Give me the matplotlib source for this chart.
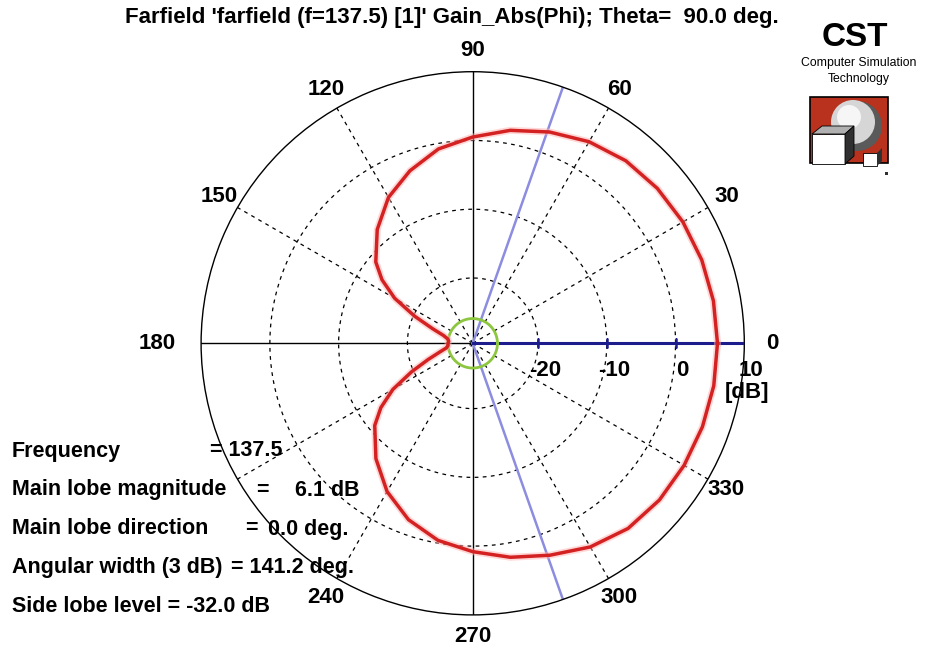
import numpy as np
import matplotlib.pyplot as plt
from matplotlib.patches import Rectangle, Circle, Polygon

# farfield cut, phi in degrees -> gain in dB
phi_deg = [0, 10, 20, 30, 40, 50, 60, 70, 80, 90, 100, 110, 120, 130, 140, 145,
           150, 155, 160, 165, 170, 175, 180, 185, 190, 195, 200, 205, 210, 215,
           220, 230, 240, 250, 260, 270, 280, 290, 300, 310, 320, 330, 340, 350, 360]
gain_db = [6.1, 6.05, 5.95, 5.8, 5.55, 5.15, 4.35, 3.2, 1.95, 0.5, -0.8, -2.8, -5.0, -7.9, -11.1, -13.4,
           -16.4, -20.2, -23.3, -25.1, -25.8, -26.0, -25.9, -25.9, -25.6, -24.5, -22.6, -19.7, -16.1, -13.2,
           -10.9, -7.6, -4.6, -2.2, -0.4, 0.8, 2.1, 3.3, 4.7, 5.65, 5.95, 6.0, 6.05, 6.1, 6.1]

freq = 137.5
main_lobe_mag = 6.1
main_lobe_dir = 0.0
angular_width = 141.2
side_lobe_level = -32.0

ring_levels = [-20, -10, 0, 10]
angle_labels = [0, 30, 60, 90, 120, 150, 180, 240, 270, 300, 330]

R0, RMAX = -29.5, 10
W, H = 929, 649
FONT = ['Liberation Sans', 'DejaVu Sans']

fig = plt.figure(figsize=(W / 100, H / 100), dpi=100)
fig.patch.set_facecolor('white')

def px(x, y):
    return x / W, 1 - y / H

cx, cy, rad_px = 472.7, 343.3, 271.6
ax = fig.add_axes([(cx - rad_px) / W, (H - cy - rad_px) / H, 2 * rad_px / W, 2 * rad_px / H],
                  projection='polar')
ax.set_ylim(R0, RMAX)
ax.grid(False)
ax.set_xticks([])
ax.set_yticks([])
ax.spines['polar'].set_linewidth(1.0)
ax.spines['polar'].set_color('black')
ax.set_facecolor('white')

dash = (0, (3, 3.5))
tc = np.linspace(0, 2 * np.pi, 361)
for lvl in ring_levels[:-1]:
    ax.plot(tc, np.full_like(tc, lvl), color='black', ls=dash, lw=0.9, zorder=1)
for a in range(30, 360, 30):
    if a % 90 == 0:
        continue
    ax.plot([np.radians(a)] * 2, [R0, RMAX], color='black', ls=dash, lw=0.9, zorder=1)
for a in [0, 90, 180, 270]:
    ax.plot([np.radians(a)] * 2, [R0, RMAX], color='black', lw=1.0, zorder=1)

# 3 dB beamwidth markers
half = np.radians(angular_width / 2)
for t in (half, -half):
    ax.plot([t, t], [R0, RMAX], color='#8c8ce0', lw=1.8, zorder=2)

# main lobe direction
md = np.radians(main_lobe_dir)
ax.plot([md, md], [R0, RMAX], color='#1c1c8c', lw=2.2, zorder=3)
ax.plot([md] * 3, ring_levels[:-1], ls='none', marker='|', ms=7, mew=1.8, color='#1c1c8c', zorder=3)

# side lobe level circle
sll = main_lobe_mag + side_lobe_level
ax.plot(tc, np.full_like(tc, sll), color='#8dc63f', lw=2.0, zorder=3)

# pattern
ax.plot(np.radians(phi_deg), gain_db, color='#ffb0b0', lw=5, alpha=0.5, zorder=4,
        solid_joinstyle='round')
ax.plot(np.radians(phi_deg), gain_db, color='#d42222', lw=2.5, zorder=4, solid_joinstyle='round')

# angle labels
lab_r = R0 + 293 / rad_px * (RMAX - R0)
for a in angle_labels:
    ha = 'center'
    r = lab_r
    if a == 0:
        ha = 'left'
    elif a == 180:
        ha = 'right'
        r = R0 + 297 / rad_px * (RMAX - R0)
    ax.text(np.radians(a), r, str(a), ha=ha, va='center', fontsize=16,
            fontweight='bold', family=FONT, clip_on=False)

# radial labels
for lvl in ring_levels:
    ax.annotate(str(lvl), xy=(0, lvl), xytext=(7, -27), textcoords='offset pixels',
                ha='center', va='center', fontsize=16, fontweight='bold', family=FONT,
                annotation_clip=False)
ax.annotate('[dB]', xy=(0, RMAX), xytext=(3, -49), textcoords='offset pixels',
            ha='center', va='center', fontsize=16, fontweight='bold', family=FONT,
            annotation_clip=False)

# title
fig.text(*px(452, 18), "Farfield 'farfield (f=%.1f) [1]' Gain_Abs(Phi); Theta=  90.0 deg." % freq,
         ha='center', va='center', fontsize=16, fontweight='bold', family=FONT)

# summary block
tk = dict(fontsize=15.5, fontweight='bold', family=FONT, va='center')
fig.text(*px(12, 451), 'Frequency', ha='left', **tk)
fig.text(*px(210, 451), '= %.1f' % freq, ha='left', **tk)
fig.text(*px(12, 490), 'Main lobe magnitude', ha='left', **tk)
fig.text(*px(256, 490), '=', ha='left', **tk)
fig.text(*px(360, 490), '%.1f dB' % main_lobe_mag, ha='right', **tk)
fig.text(*px(12, 529), 'Main lobe direction', ha='left', **tk)
fig.text(*px(245, 529), '=', ha='left', **tk)
fig.text(*px(268, 529), '%.1f deg.' % main_lobe_dir, ha='left', **tk)
fig.text(*px(12, 568), 'Angular width (3 dB)', ha='left', **tk)
fig.text(*px(231, 568), '= %.1f deg.' % angular_width, ha='left', **tk)
fig.text(*px(12, 607), 'Side lobe level = %.1f dB' % side_lobe_level, ha='left', **tk)

# logo
fig.text(*px(855, 38), 'CST', ha='center', va='center', fontsize=24, fontweight='bold', family=FONT)
fig.text(*px(859, 63), 'Computer Simulation', ha='center', va='center', fontsize=8.8, family=FONT)
fig.text(*px(859, 79), 'Technology', ha='center', va='center', fontsize=8.8, family=FONT)

lx = fig.add_axes([800 / W, 1 - 180 / H, 95 / W, 90 / H])
lx.set_xlim(0, 95)
lx.set_ylim(90, 0)
lx.axis('off')
lx.add_patch(Rectangle((10, 7), 78, 66, facecolor='#b8321e', edgecolor='black', lw=1.2))
lx.add_patch(Circle((57, 36), 25, facecolor='#5a5a5a', edgecolor='none'))
lx.add_patch(Circle((53, 32), 22, facecolor='#d6d6d6', edgecolor='none'))
lx.add_patch(Circle((49, 27), 12, facecolor='#f6f6f6', edgecolor='none'))
lx.add_patch(Polygon([(12, 44), (22, 36), (54, 36), (45, 44)], facecolor='#b0b0b0', edgecolor='black', lw=0.6))
lx.add_patch(Rectangle((12, 44), 33, 30, facecolor='white', edgecolor='black', lw=0.6))
lx.add_patch(Polygon([(45, 44), (54, 36), (54, 66), (45, 74)], facecolor='#303030', edgecolor='black', lw=0.6))
lx.add_patch(Rectangle((63, 63), 14, 13, facecolor='white', edgecolor='black', lw=0.6))
lx.add_patch(Polygon([(77, 63), (82, 58), (82, 71), (77, 76)], facecolor='#303030', edgecolor='none'))
lx.add_patch(Rectangle((85, 82), 3, 3, facecolor='#303030', edgecolor='none'))

fig.savefig('out.png', dpi=100, facecolor='white')
